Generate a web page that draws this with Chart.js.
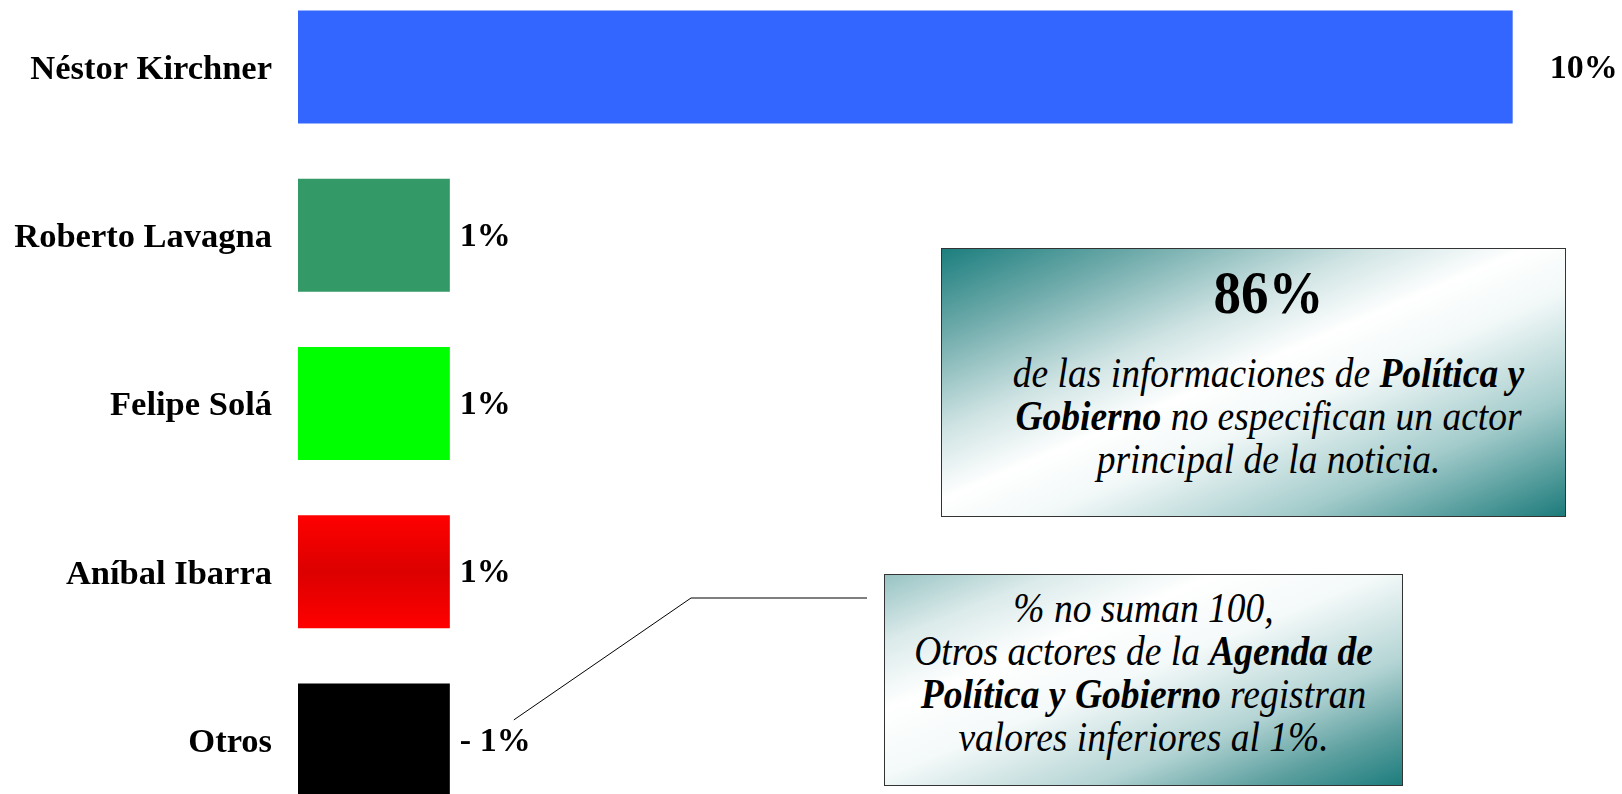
<!DOCTYPE html>
<html>
<head>
<meta charset="utf-8">
<script src="https://cdn.jsdelivr.net/npm/chart.js@4/dist/chart.umd.min.js"></script>
<style>
    html, body { margin: 0; padding: 0; background: #fff; overflow: hidden; }
    body { width: 1622px; height: 794px; position: relative; font-family: "Liberation Serif", "Times New Roman", serif; }
    #chart { position: absolute; left: 0; top: -17px; }
    .box {
        position: absolute; box-sizing: border-box; border: 1px solid #333;
        text-align: center; color: #000; font-style: italic; font-size: 37.5px; line-height: 43px;
    }
    .box div { transform: scaleY(1.1); }
    .box b { font-weight: bold; }
    #box1 {
        left: 941px; top: 248px; width: 625px; height: 269px; padding: 13px 0 0 30px;
        background: linear-gradient(to bottom right, #1c7e7e 0%, #6eaaaa 16%, #cfe3e3 34%, #ffffff 47%, #f2f8f8 58%, #a3cbcb 78%, #1d7b7b 100%);
    }
    #box1 .big { font-style: normal; font-weight: bold; font-size: 55px; line-height: 62px; margin-bottom: 28px; }
    #box2 {
        left: 884px; top: 574px; width: 519px; height: 212px; padding-top: 12px;
        background: linear-gradient(to bottom right, #98c3c3 0%, #dbeaea 16%, #ffffff 32%, #f4f9f9 48%, #b4d4d4 70%, #5ea0a0 86%, #1d7d7d 100%);
    }
</style>
</head>
<body>
<canvas id="chart" width="1622" height="841"></canvas>

<div class="box" id="box1">
    <div class="big">86%</div>
    <div>de las informaciones de <b>Política y</b></div>
    <div><b>Gobierno</b> no especifican un actor</div>
    <div>principal de la noticia.</div>
</div>

<div class="box" id="box2">
    <div>% no suman 100,</div>
    <div>Otros actores de la <b>Agenda de</b></div>
    <div><b>Política y Gobierno</b> registran</div>
    <div>valores inferiores al 1%.</div>
</div>

<script>
// datos
const actores = ['Néstor Kirchner', 'Roberto Lavagna', 'Felipe Solá', 'Aníbal Ibarra', 'Otros'];
const valores = [10, 1.25, 1.25, 1.25, 1.25];
const etiquetas = ['10%', '1%', '1%', '1%', '- 1%'];
const colores = ['#3366ff', '#339966', '#00ff00', '#ff0000', '#000000'];
const separacion = [37, 10, 10, 10, 10];

// degradado de la barra roja + etiquetas de valor + linea de nota
const extras = {
    id: 'extras',
    beforeDatasetsDraw(chart) {
        const bar = chart.getDatasetMeta(0).data[3];
        const top = bar.y - bar.height / 2;
        const g = chart.ctx.createLinearGradient(0, top, 0, top + bar.height);
        g.addColorStop(0, '#ff0000');
        g.addColorStop(0.5, '#dc0000');
        g.addColorStop(1, '#ff0000');
        bar.options.backgroundColor = g;
    },
    afterDatasetsDraw(chart) {
        const ctx = chart.ctx;
        const bars = chart.getDatasetMeta(0).data;
        ctx.save();
        ctx.font = 'bold 34px "Liberation Serif"';
        ctx.fillStyle = '#000';
        ctx.textAlign = 'left';
        ctx.textBaseline = 'middle';
        bars.forEach((b, i) => {
            ctx.fillText(etiquetas[i], b.x + separacion[i], b.y + 2);
        });

        // linea desde "- 1%" hasta el cuadro
        const last = bars[bars.length - 1];
        const x0 = last.x + separacion[4] + 54;
        const y0 = last.y - 20;
        ctx.strokeStyle = '#000';
        ctx.lineWidth = 1;
        ctx.beginPath();
        ctx.moveTo(x0, y0);
        ctx.lineTo(691, 615);
        ctx.lineTo(867, 615);
        ctx.stroke();
        ctx.restore();
    }
};

const ctx = document.getElementById('chart').getContext('2d');
new Chart(ctx, {
    type: 'bar',
    data: {
        labels: actores,
        datasets: [{
            data: valores,
            backgroundColor: colores,
            borderWidth: 0,
            categoryPercentage: 1,
            barPercentage: 0.672
        }]
    },
    options: {
        indexAxis: 'y',
        responsive: false,
        animation: false,
        layout: { padding: 0 },
        scales: {
            x: {
                display: false,
                min: 0,
                max: 10.9
            },
            y: {
                grid: { display: false, drawTicks: false },
                border: { display: false },
                ticks: {
                    padding: 26,
                    labelOffset: 3,
                    color: '#000',
                    font: { family: 'Liberation Serif', size: 34.5, weight: 'bold' }
                },
                afterFit(axis) {
                    axis.width = 298;
                    axis.paddingTop = 0;
                    axis.paddingBottom = 0;
                }
            }
        },
        plugins: {
            legend: { display: false },
            tooltip: { enabled: false }
        }
    },
    plugins: [extras]
});
</script>
</body>
</html>
